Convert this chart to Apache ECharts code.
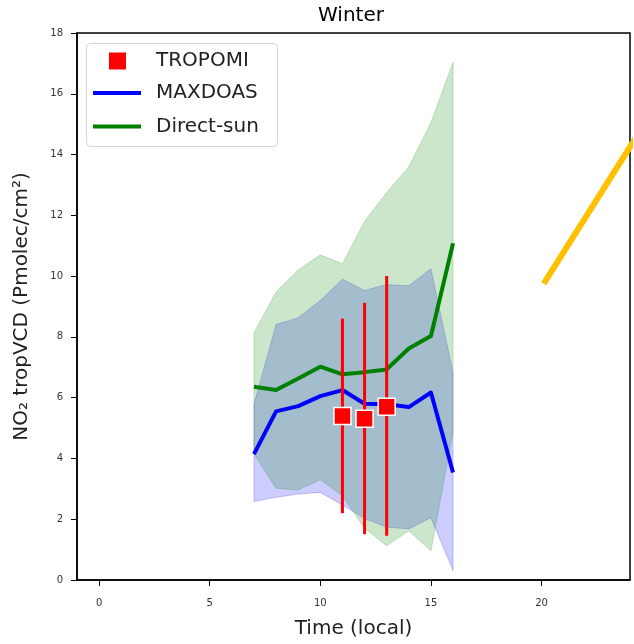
<!DOCTYPE html>
<html>
<head>
<meta charset="utf-8">
<script src="https://cdn.jsdelivr.net/npm/echarts@6/dist/echarts.min.js"></script>
<style>
html,body{margin:0;padding:0;background:#fff;}
#c{width:634px;height:644px;}
</style>
</head>
<body>
<div id="c"></div>
<script>
// ---- data ----
var hours = [7, 8, 9, 10, 11, 12, 13, 14, 15, 16];
var maxdoas = [4.14, 5.55, 5.72, 6.05, 6.25, 5.8, 5.78, 5.69, 6.17, 3.54];
var maxdoasLow = [2.58, 2.72, 2.83, 2.88, 2.47, 2.02, 1.74, 1.68, 2.05, 0.31];
var maxdoasHigh = [5.78, 8.41, 8.63, 9.2, 9.9, 9.53, 9.72, 9.68, 10.24, 6.82];
var directSun = [6.36, 6.25, 6.63, 7.02, 6.77, 6.84, 6.93, 7.62, 8.03, 11.08];
var directSunLow = [4.15, 3.02, 2.96, 3.3, 2.77, 1.7, 1.13, 1.62, 0.96, 4.88];
var directSunHigh = [8.14, 9.48, 10.2, 10.7, 10.41, 11.8, 12.75, 13.6, 15.05, 17.03];
var tropomiX = [11, 12, 13];
var tropomi = [5.4, 5.31, 5.7];
var tropomiLow = [2.2, 1.51, 1.46];
var tropomiHigh = [8.6, 9.12, 10.0];
var orangeX = [20.1, 24.3];
var orangeY = [9.75, 14.6];
var xTicks = [0, 5, 10, 15, 20];

var FONT = 'DejaVu Sans';
var chart = echarts.init(document.getElementById('c'), null, {renderer: 'canvas'});

function bandItem(fill) {
  return function (params, api) {
    if (params.dataIndexInside !== 0) return null;
    var n = params.dataInsideLength;
    var pts = [];
    for (var i = 0; i < n; i++) pts.push(api.coord([api.value(0, i), api.value(2, i)]));
    for (var j = n - 1; j >= 0; j--) pts.push(api.coord([api.value(0, j), api.value(1, j)]));
    return {type: 'polygon', shape: {points: pts}, style: {fill: fill, stroke: fill, lineWidth: 1}};
  };
}

var option = {
  animation: false,
  backgroundColor: '#fff',
  title: {
    text: 'Winter', left: 346, top: 1, textAlign: 'center',
    textStyle: {fontFamily: FONT, fontSize: 20, fontWeight: 'normal', color: '#000'}
  },
  grid: {left: 77, right: 4, top: 33, bottom: 63, show: true, borderColor: '#000', borderWidth: 1.5, backgroundColor: 'transparent'},
  graphic: [{
    type: 'rect', left: 86, top: 43, z: 100,
    shape: {width: 191, height: 103, r: 4},
    style: {fill: 'rgba(255,255,255,0.85)', stroke: '#d4d4d4', lineWidth: 1}
  }],
  legend: [
    {data: ['TROPOMI'], left: 109, top: 51, padding: 0, itemWidth: 17, itemHeight: 17, icon: 'rect', z: 110,
     itemStyle: {borderWidth: 0}, selectedMode: false,
     textStyle: {fontFamily: FONT, fontSize: 20, color: '#222', padding: [0, 0, 0, 25]}},
    {data: ['MAXDOAS'], left: 93, top: 83, padding: 0, itemWidth: 48, itemHeight: 4, icon: 'rect', z: 110,
     itemStyle: {borderWidth: 0}, selectedMode: false,
     textStyle: {fontFamily: FONT, fontSize: 20, color: '#222', padding: [0, 0, 0, 10]}},
    {data: ['Direct-sun'], left: 93, top: 116.5, padding: 0, itemWidth: 48, itemHeight: 4, icon: 'rect', z: 110,
     itemStyle: {borderWidth: 0}, selectedMode: false,
     textStyle: {fontFamily: FONT, fontSize: 20, color: '#222', padding: [0, 0, 0, 10]}}
  ],
  xAxis: {
    type: 'value', min: -1, max: 24,
    name: 'Time (local)', nameLocation: 'middle', nameGap: 39,
    nameTextStyle: {fontFamily: FONT, fontSize: 20, color: '#222'},
    splitLine: {show: false},
    axisLine: {show: true, onZero: false, lineStyle: {color: '#000', width: 1.5}},
    axisTick: {show: true, length: 6, customValues: xTicks, lineStyle: {color: '#000', width: 1}},
    axisLabel: {customValues: xTicks, fontFamily: FONT, fontSize: 10, color: '#333', margin: 18}
  },
  yAxis: {
    type: 'value', min: 0, max: 18, interval: 2,
    name: 'NO\u2082 tropVCD (Pmolec/cm\u00b2)', nameLocation: 'middle', nameGap: 45,
    nameTextStyle: {fontFamily: FONT, fontSize: 20, color: '#222'},
    splitLine: {show: false},
    axisLine: {show: true, onZero: false, lineStyle: {color: '#000', width: 1.5}},
    axisTick: {show: true, length: 6, lineStyle: {color: '#000', width: 1}},
    axisLabel: {fontFamily: FONT, fontSize: 10, color: '#333', margin: 14}
  },
  series: [
    {
      name: 'MAXDOAS range', type: 'custom', z: 1,
      renderItem: bandItem('rgba(0,0,255,0.2)'),
      encode: {x: 0, y: [1, 2]},
      data: hours.map(function (h, i) { return [h, maxdoasLow[i], maxdoasHigh[i]]; })
    },
    {
      name: 'Direct-sun range', type: 'custom', z: 2,
      renderItem: bandItem('rgba(0,128,0,0.2)'),
      encode: {x: 0, y: [1, 2]},
      data: hours.map(function (h, i) { return [h, directSunLow[i], directSunHigh[i]]; })
    },
    {
      name: 'MAXDOAS', type: 'line', z: 3, symbol: 'none',
      itemStyle: {color: '#0000ff'},
      lineStyle: {color: '#0000ff', width: 4, join: 'round'},
      data: hours.map(function (h, i) { return [h, maxdoas[i]]; })
    },
    {
      name: 'Direct-sun', type: 'line', z: 3, symbol: 'none',
      itemStyle: {color: '#008000'},
      lineStyle: {color: '#008000', width: 4, join: 'round'},
      data: hours.map(function (h, i) { return [h, directSun[i]]; })
    },
    {
      name: 'TROPOMI error', type: 'custom', z: 4,
      renderItem: function (params, api) {
        var a = api.coord([api.value(0), api.value(1)]);
        var b = api.coord([api.value(0), api.value(2)]);
        return {type: 'line', shape: {x1: a[0], y1: a[1], x2: b[0], y2: b[1]}, style: {stroke: '#ff0000', lineWidth: 3, opacity: 1}};
      },
      encode: {x: 0, y: [1, 2]},
      data: tropomiX.map(function (x, i) { return [x, tropomiLow[i], tropomiHigh[i]]; })
    },
    {
      name: 'TROPOMI', type: 'scatter', z: 5, symbol: 'rect', symbolSize: 17,
      itemStyle: {color: '#ff0000', borderColor: '#ffffff', borderWidth: 1.5, opacity: 1},
      data: tropomiX.map(function (x, i) { return [x, tropomi[i]]; })
    },
    {
      name: 'annotation', type: 'line', z: 6, symbol: 'none', clip: false,
      lineStyle: {color: '#ffc000', width: 6, cap: 'butt'},
      data: orangeX.map(function (x, i) { return [x, orangeY[i]]; })
    }
  ]
};
chart.setOption(option);
</script>
</body>
</html>
